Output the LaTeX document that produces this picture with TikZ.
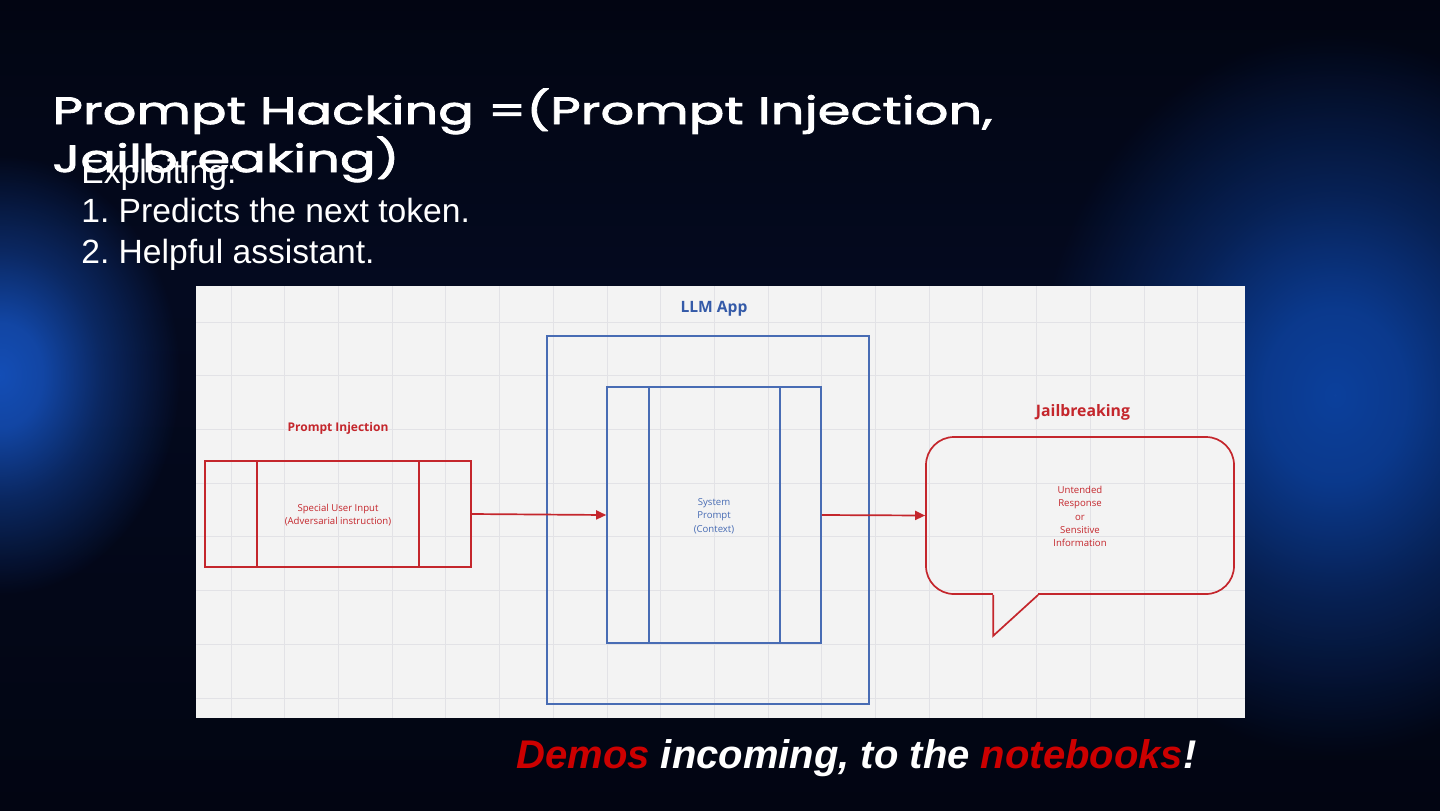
\documentclass[tikz,border=0pt]{standalone}
\usepackage{fontspec}
\setmainfont{Liberation Sans}
\newfontfamily\titlefont{Poppins}[FakeBold=2.2,FakeStretch=1.39]
\newfontfamily\diagfont{Open Sans}
\usetikzlibrary{arrows.meta,fadings}
\frenchspacing
\definecolor{bgtop}{RGB}{2,5,18}
\definecolor{bgc}{RGB}{4,10,32}
\definecolor{glowL}{RGB}{20,78,182}
\definecolor{glowR}{RGB}{12,64,156}
\definecolor{panel}{RGB}{243,243,243}
\definecolor{gridc}{RGB}{226,226,230}
\definecolor{dred}{RGB}{196,38,44}
\definecolor{dblue}{RGB}{72,108,180}
\definecolor{tblue}{RGB}{52,90,168}
\definecolor{bred}{RGB}{204,0,0}
\pgfdeclareradialshading{glowfadeshade}{\pgfpointorigin}{color(0bp)=(pgftransparent!0); color(6bp)=(pgftransparent!12); color(14bp)=(pgftransparent!55); color(25bp)=(pgftransparent!100); color(50bp)=(pgftransparent!100)}
\pgfdeclarefading{glowfade}{\pgfuseshading{glowfadeshade}}
\tikzset{
  redl/.style={draw=dred, line width=0.85pt},
  bluel/.style={draw=dblue, line width=0.8pt},
  smalltxt/.style={font=\diagfont\fontsize{4.8}{6.65}\selectfont, align=center, inner sep=0pt},
  conn/.style={redl, -{Triangle[length=5pt,width=4.5pt]}},
  listtxt/.style={anchor=base west, inner sep=0pt, text=white, font=\fontsize{16.8}{20}\selectfont},
  titletxt/.style={anchor=base west, inner sep=0pt, text=white, font=\titlefont\fontsize{19}{24}\selectfont},
}
\begin{document}
\begin{tikzpicture}[x=0.5pt,y=-0.5pt]
\useasboundingbox (0,0) rectangle (1440,810);
% background
\shade[top color=bgtop, bottom color=bgc] (0,0) rectangle (1440,300);
\shade[top color=bgc, bottom color=bgtop] (0,299) rectangle (1440,810);
\fill[glowL, path fading=glowfade, fit fading=true] (0,375) ellipse (180 and 220);
\fill[glowR, path fading=glowfade, fit fading=true] (1335,395) ellipse (300 and 360);
% panel
\fill[panel] (196,286) rectangle (1245,718);
\foreach \i in {0,...,18} \draw[gridc, line width=0.4pt] ({231+53.7*\i},286) -- ({231+53.7*\i},718);
\foreach \j in {0,...,7} \draw[gridc, line width=0.4pt] (196,{322+53.7*\j}) -- (1245,{322+53.7*\j});
% title and list
\node[listtxt] (ex) at (81,183) {Exploiting:};
\node[listtxt] (l1) at (81,222) {1. Predicts the next token.};
\node[listtxt] (l2) at (81,263) {2. Helpful assistant.};
\node[titletxt] (t1) at (52,124) {Prompt Hacking =(Prompt Injection,};
\node[titletxt] (t2) at (52,172) {Jailbreaking)};
% prompt injection
\node[text=dred, font=\diagfont\bfseries\fontsize{6}{7}\selectfont, inner sep=0pt] (pil) at (338,428) {Prompt Injection};
\node[redl, minimum width=133pt, minimum height=53pt, inner sep=0pt] (pi) at (338,514) {};
\draw[redl] ([xshift=26.5pt]pi.north west) -- ([xshift=26.5pt]pi.south west);
\draw[redl] ([xshift=-26.5pt]pi.north east) -- ([xshift=-26.5pt]pi.south east);
\node[smalltxt, text=dred] (pit) at (338,515) {Special User Input\\(Adversarial instruction)};
% LLM app
\node[text=tblue, font=\diagfont\bfseries\fontsize{7.8}{9}\selectfont, inner sep=0pt] (appl) at (714,309) {LLM App};
\node[bluel, minimum width=161pt, minimum height=184pt, inner sep=0pt] (app) at (708,520) {};
\node[bluel, minimum width=107pt, minimum height=128pt, inner sep=0pt] (sp) at (714,515) {};
\draw[bluel] ([xshift=21.5pt]sp.north west) -- ([xshift=21.5pt]sp.south west);
\draw[bluel] ([xshift=-21pt]sp.north east) -- ([xshift=-21pt]sp.south east);
\node[smalltxt, text=dblue] (spt) at (714,516) {System\\Prompt\\(Context)};
% jailbreaking bubble
\node[text=dred, font=\diagfont\bfseries\fontsize{7.9}{9}\selectfont, inner sep=0pt] (jbl) at (1083,412) {Jailbreaking};
\node[redl, rounded corners=14pt, minimum width=154pt, minimum height=78.5pt, inner sep=0pt] (bub) at (1080,515.5) {};
\fill[panel] ([xshift=34pt,yshift=1.5pt]bub.south west) rectangle ([xshift=56.5pt,yshift=-1.5pt]bub.south west);
\draw[redl] ([xshift=34pt]bub.south west) -- ([xshift=34pt,yshift=-20.5pt]bub.south west) -- ([xshift=56.5pt]bub.south west);
\node[smalltxt, text=dred] (bubt) at (1080,516.5) {Untended\\Response\\or\\Sensitive\\Information};
% connectors
\draw[conn] (pi.east) -- (sp.west);
\draw[conn] (sp.east) -- (bub.west);
% bottom line
\node[anchor=base west, inner sep=0pt, text=white, font=\bfseries\itshape\fontsize{20}{24}\selectfont] (demo) at (516,768) {\textcolor{bred}{Demos} incoming, to the \textcolor{bred}{notebooks}!};
\end{tikzpicture}
\end{document}
